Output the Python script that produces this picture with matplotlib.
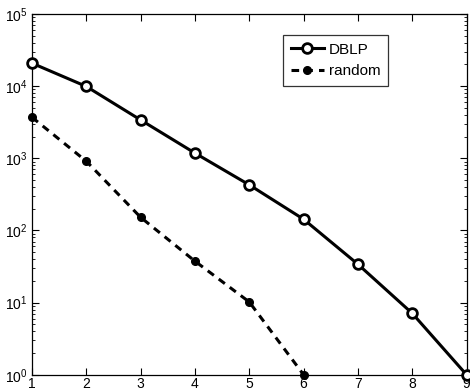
import matplotlib
matplotlib.use("Agg")
import matplotlib.pyplot as plt
from matplotlib.ticker import LogLocator, FixedLocator

plt.rcParams['font.family'] = ['Liberation Sans', 'DejaVu Sans']
plt.rcParams['mathtext.fontset'] = 'custom'
plt.rcParams['mathtext.rm'] = 'Liberation Sans'

x_dblp = [1, 2, 3, 4, 5, 6, 7, 8, 9]
y_dblp = [20800, 9900, 3400, 1180, 428, 143, 34, 7.1, 1]
x_rand = [1, 2, 3, 4, 5, 6]
y_rand = [3700, 910, 152, 37.5, 10.2, 1]
xticks = [1, 2, 3, 4, 5, 6, 7, 8, 9]

fig = plt.figure(figsize=(4.7, 3.91), dpi=100)
ax = fig.add_axes([32/470, 1-374.7/391, (466.5-32)/470, (374.7-14)/391])

ax.plot(x_dblp, y_dblp, '-', color='black', lw=2.2, marker='o', ms=7,
        mfc='white', mec='black', mew=2, label='DBLP', clip_on=False, zorder=3)
ax.plot(x_rand, y_rand, '--', color='black', lw=2.2, marker='o', ms=5.5,
        mfc='black', mec='black', dashes=(2.5, 2), label='random', clip_on=False, zorder=3)

ax.set_yscale('log')
ax.set_xlim(1, 9)
ax.set_ylim(1, 1e5)
ax.xaxis.set_major_locator(FixedLocator(xticks))
ax.set_xticklabels([str(t) for t in xticks])
ax.yaxis.set_major_locator(LogLocator(base=10, numticks=10))
ax.yaxis.set_minor_locator(LogLocator(base=10, subs=range(2, 10), numticks=10))
ax.yaxis.set_minor_formatter(plt.NullFormatter())

ax.tick_params(which='both', direction='in', top=True, right=True, labelsize=10, pad=3)
ax.tick_params(axis='x', pad=1.5)
ax.tick_params(which='major', length=5, width=0.8)
ax.tick_params(which='minor', length=2.5, width=0.6)
for s in ax.spines.values():
    s.set_linewidth(0.9)

leg = ax.legend(loc='upper left', bbox_to_anchor=((283-32)/434.5, 1-(35-14)/360.7),
                fontsize=11, frameon=True, fancybox=False, edgecolor='black',
                borderpad=0.5, handlelength=2.2, handletextpad=0.3, labelspacing=0.5,
                borderaxespad=0)
leg.get_frame().set_linewidth(0.9)

fig.savefig('out.png', dpi=100)
